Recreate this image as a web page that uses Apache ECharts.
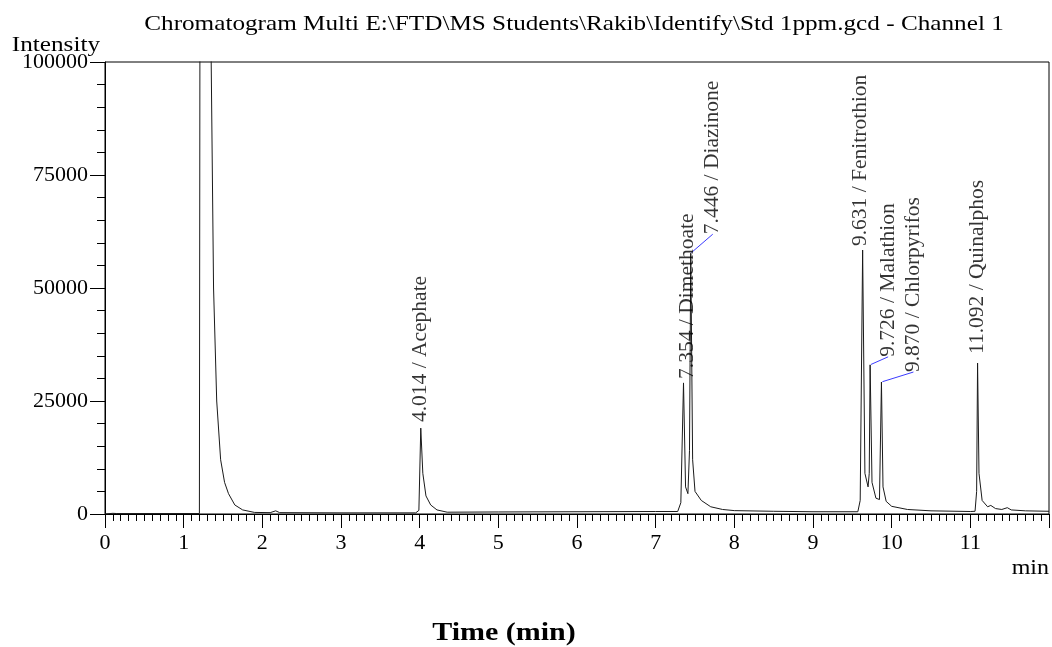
<!DOCTYPE html>
<html lang="en">
<head>
  <meta charset="utf-8">
  <style>
    html, body { margin: 0; padding: 0; background: #fff; }
    #container { width: 1052px; height: 647px; }
  </style>
</head>
<body>
  <div id="container"></div>
  <script src="https://cdn.jsdelivr.net/npm/echarts@6.0.0/dist/echarts.min.js"></script>
  <script>
    // chromatogram trace (time in min, intensity)
    var traceTime = [0.00, 0.10, 0.12, 0.15, 1.20, 1.215, 1.225, 1.33, 1.35, 1.38, 1.42, 1.47, 1.52, 1.57, 1.65, 1.75, 1.90,
      2.10, 2.17, 2.22, 3.00, 3.95, 3.99, 4.014, 4.04, 4.08, 4.14, 4.22, 4.35, 5.00, 6.00, 7.00,
      7.28, 7.32, 7.354, 7.38, 7.41, 7.43, 7.446, 7.47, 7.50, 7.58, 7.70, 7.85, 8.00, 8.50, 9.00,
      9.57, 9.60, 9.631, 9.66, 9.70, 9.715, 9.726, 9.75, 9.80, 9.845, 9.870, 9.89, 9.93, 10.00, 10.20, 10.50,
      11.00, 11.06, 11.08, 11.092, 11.11, 11.15, 11.22, 11.26, 11.32, 11.40, 11.47, 11.52, 11.70, 12.00];
    var traceIntensity = [0, 150, 300, 100, 100, 150, 400000, 400000, 100000, 50000, 25000, 12000, 7000, 4500, 2000, 900, 350,
      300, 700, 300, 250, 250, 800, 19000, 9000, 4000, 2000, 900, 400, 450, 500, 550,
      550, 2500, 29000, 6000, 4500, 14000, 57700, 12000, 5000, 3000, 1600, 1000, 750, 600, 500,
      500, 3000, 58400, 9000, 6000, 9000, 33000, 7000, 3500, 3200, 29200, 6000, 2800, 1700, 1000, 700,
      550, 600, 5000, 33400, 9000, 3000, 1600, 1900, 1200, 1000, 1400, 900, 700, 600];

    // identified peaks
    var peakTimes = [4.014, 7.354, 7.446, 9.631, 9.726, 9.870, 11.092];
    var peakHeights = [19000, 29000, 57700, 58400, 33000, 29200, 33400];
    var peakNames = ['Acephate', 'Dimethoate', 'Diazinone', 'Fenitrothion', 'Malathion', 'Chlorpyrifos', 'Quinalphos'];

    // label shifts on screen [right, down] px; a leader line is drawn when shifted sideways
    var labelShift = [[0, 0], [4, 2], [22, -13], [-2, 2], [18, -2], [32, -4], [0, -3]];
    var leader = [false, false, true, false, true, true, false];

    var serif = '"Liberation Serif", "DejaVu Serif", serif';

    var trace = traceTime.map(function (t, i) { return [t, traceIntensity[i]]; });
    var peaks = peakTimes.map(function (t, i) {
      return {
        value: [t, peakHeights[i]],
        name: t.toFixed(3) + ' / ' + peakNames[i],
        labelLine: { show: leader[i] }
      };
    });

    // the scanned figure is a bit wider than tall, stretch the free texts the same way
    function stretchedText(text, x, y, size, align, weight) {
      return {
        type: 'text', x: x, y: y, scaleX: 1.2,
        style: {
          text: text, fill: '#000', align: align, verticalAlign: 'middle',
          font: (weight || 'normal') + ' ' + size + 'px ' + serif
        }
      };
    }

    var chart = echarts.init(document.getElementById('container'));
    chart.setOption({
      animation: false,
      backgroundColor: '#fff',
      graphic: [
        stretchedText('Chromatogram Multi E:\\FTD\\MS Students\\Rakib\\Identify\\Std 1ppm.gcd - Channel 1', 574, 24, 21, 'center'),
        stretchedText('Intensity', 100, 45, 21, 'right'),
        stretchedText('min', 1049, 569, 20, 'right'),
        stretchedText('Time (min)', 504, 634, 25, 'center', 'bold')
      ],
      grid: {
        left: 105, right: 3, top: 62, bottom: 133,
        show: true, borderColor: '#000', borderWidth: 1
      },
      xAxis: {
        type: 'value', min: 0, max: 12, interval: 1,
        axisLine: { lineStyle: { color: '#000', width: 1 } },
        axisTick: { length: 14, lineStyle: { color: '#000' } },
        minorTick: { show: true, splitNumber: 10, length: 7, lineStyle: { color: '#000' } },
        axisLabel: { showMaxLabel: false, margin: 18, fontFamily: serif, fontSize: 22, color: '#000' },
        splitLine: { show: false }
      },
      yAxis: {
        type: 'value', min: 0, max: 100000, interval: 25000,
        axisLine: { show: true, lineStyle: { color: '#000', width: 1 } },
        axisTick: { show: true, length: 15, lineStyle: { color: '#000' } },
        minorTick: { show: true, splitNumber: 5, length: 8, lineStyle: { color: '#000' } },
        axisLabel: {
          margin: 17, fontFamily: serif, fontSize: 22, color: '#000',
          formatter: function (v) { return String(v); }
        },
        splitLine: { show: false }
      },
      series: [
        {
          type: 'line',
          data: trace,
          showSymbol: false,
          clip: true,
          lineStyle: { color: '#1a1a1a', width: 1 },
          z: 2
        },
        {
          type: 'scatter',
          data: peaks,
          symbolSize: 2,
          itemStyle: { color: 'rgba(0,0,0,0)' },
          label: {
            show: true,
            position: 'top',
            distance: 5,
            rotate: 90,
            align: 'left',
            verticalAlign: 'middle',
            formatter: '{b}',
            fontFamily: serif,
            fontSize: 21.5,
            color: '#000'
          },
          labelLine: { show: false, lineStyle: { color: '#3b3bff', width: 1 } },
          // the label is rotated, so its dx/dy work in the turned frame
          labelLayout: function (params) {
            var s = labelShift[params.dataIndex];
            return { dx: -s[1], dy: s[0] };
          },
          z: 3
        }
      ]
    });
  </script>
</body>
</html>
